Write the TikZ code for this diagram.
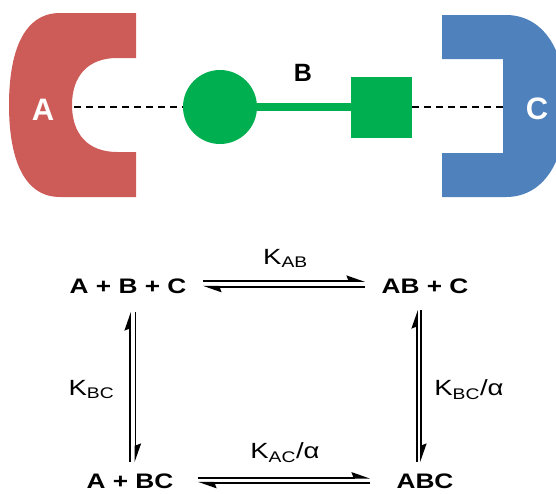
\documentclass[tikz,border=0pt]{standalone}
\usepackage{fontspec}
\setmainfont{Liberation Sans}
\usetikzlibrary{arrows.meta}

\definecolor{molA}{RGB}{205,92,88}
\definecolor{molB}{RGB}{0,176,80}
\definecolor{molC}{RGB}{79,129,189}

\newcommand{\wide}[1]{\scalebox{1.25}[1]{#1}}

\begin{document}
\begin{tikzpicture}[x=1pt,y=-1pt,
  species/.style={font=\fontsize{21}{25}\selectfont\bfseries, inner sep=0pt},
  klabel/.style={font=\fontsize{22}{26}\selectfont, inner sep=0pt},
  fwd/.style={line width=1.7pt, -{Stealth[harpoon,length=16pt,width=11pt,inset=2pt]}},
  bwd/.style={line width=1.7pt, {Stealth[harpoon,length=16pt,width=11pt,inset=2pt]}-},
  link/.style={line width=2pt, dash pattern=on 7pt off 5pt}]

\useasboundingbox (0,0) rectangle (556,493);
\clip (0,0) rectangle (556,493);

% receptors
\fill[molA] (136,13) -- (60,13) .. controls (22,13) and (9,55) .. (9,105)
  .. controls (9,155) and (22,197) .. (60,197) -- (136,197) -- (136,152) -- (117,152)
  .. controls (88,152) and (72,134) .. (72,105) .. controls (72,76) and (88,58) .. (117,58)
  -- (136,58) -- cycle;
\fill[molC] (442,15) -- (506,15) .. controls (540,15) and (566,45) .. (566,106)
  .. controls (566,167) and (540,197) .. (506,197) -- (442,197) -- (442,153)
  -- (503,153) -- (503,59) -- (442,59) -- cycle;

% bivalent ligand
\node[circle, fill=molB, minimum size=74pt, inner sep=0pt] (head) at (220,107) {};
\node[fill=molB, minimum size=61pt, inner sep=0pt] (tail) at (381.5,107) {};
\draw[molB, line width=8pt] (head) -- (tail);

\coordinate (siteA) at (74,107);
\coordinate (siteC) at (503,107);
\draw[link] (siteA) -- (head);
\draw[link] (tail) -- (siteC);

\node[white, font=\fontsize{31}{36}\selectfont\bfseries] (labA) at (43,110) {A};
\node[white, font=\fontsize{31}{36}\selectfont\bfseries] (labC) at (537,108.5) {C};
\node[font=\fontsize{25}{30}\selectfont\bfseries] (labB) at (303,73) {B};

% equilibria
\node[species] (abc) at (128,286) {\wide{A + B + C}};
\node[species] (abpc) at (425,286) {\wide{AB + C}};
\node[species] (apbc) at (130,481) {\wide{A + BC}};
\node[species] (cplx) at (425,481) {\wide{ABC}};

\draw[fwd] ([xshift=75pt,yshift=5pt]abc.center) -- ([xshift=-60pt,yshift=5pt]abpc.center);
\draw[bwd] ([xshift=75pt,yshift=-0.7pt]abc.center) -- ([xshift=-60pt,yshift=-0.7pt]abpc.center);

\draw[fwd] ([xshift=68pt,yshift=3.3pt]apbc.center) -- ([xshift=-55pt,yshift=3.3pt]cplx.center);
\draw[bwd] ([xshift=68pt,yshift=-1.7pt]apbc.center) -- ([xshift=-55pt,yshift=-1.7pt]cplx.center);

\draw[fwd] ([xshift=0pt,yshift=19pt]apbc.center) -- ([xshift=2pt,yshift=-26pt]abc.center);
\draw[bwd] ([xshift=5.5pt,yshift=19pt]apbc.center) -- ([xshift=7.5pt,yshift=-26pt]abc.center);

\draw[fwd] ([xshift=-8pt,yshift=19pt]cplx.center) -- ([xshift=-8pt,yshift=-24pt]abpc.center);
\draw[bwd] ([xshift=-4pt,yshift=19pt]cplx.center) -- ([xshift=-4pt,yshift=-24pt]abpc.center);

\node[klabel] (kab) at (285.5,258.5) {\wide{K\textsubscript{AB}}};
\node[klabel] (kac) at (285,452.5) {\wide{K\textsubscript{AC}/α}};
\node[klabel] (kbc) at (91.5,389.5) {\wide{K\textsubscript{BC}}};
\node[klabel] (kbca) at (469,389.5) {\wide{K\textsubscript{BC}/α}};

\end{tikzpicture}
\end{document}
